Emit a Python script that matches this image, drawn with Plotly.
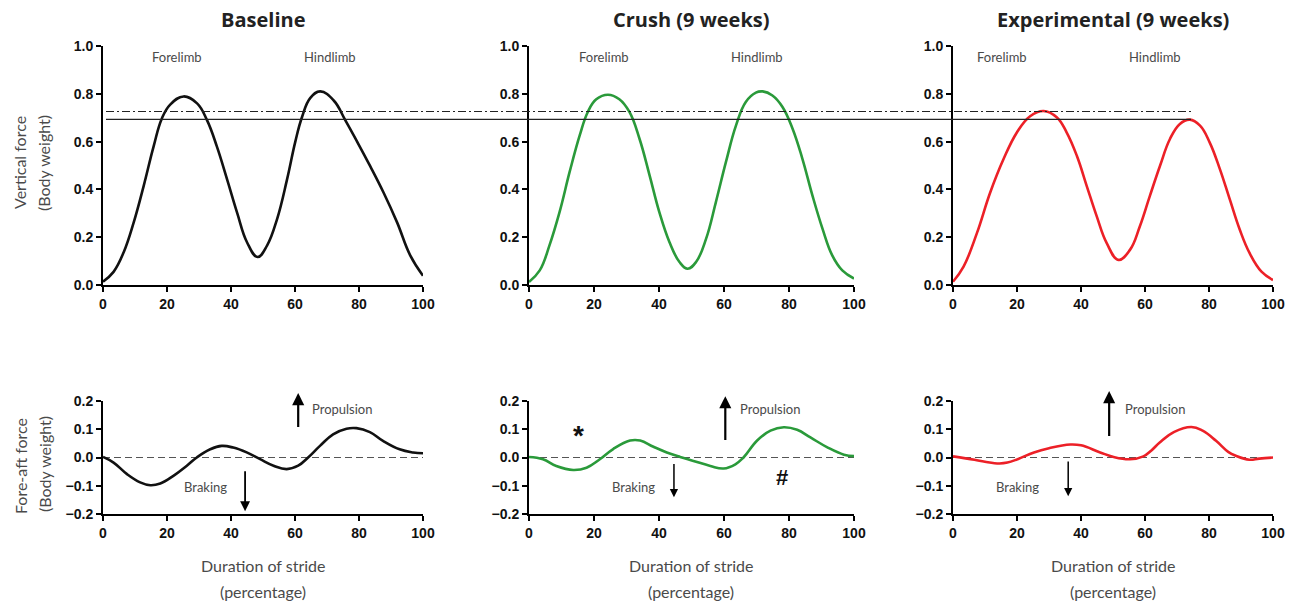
import plotly.graph_objects as go

W, H = 1297, 602

# ---------------- data ----------------
panel_titles = ["Baseline", "Crush (9 weeks)", "Experimental (9 weeks)"]
colors = ["#111111", "#2a9a3a", "#ec2027"]

base_v_x = [0, 3.3, 6.5, 9.6, 12.7, 15.8, 18.4, 21, 25.2, 29.4, 32.5, 35.6, 38.8, 41.9, 45, 48.3, 51.3, 54.4, 57.5, 60.1, 62.2, 64.8, 67.9, 72.1, 75.7, 79.4, 83.5, 87.7, 91.9, 96, 100]
base_v_y = [0.014, 0.055, 0.138, 0.262, 0.414, 0.579, 0.697, 0.755, 0.789, 0.76, 0.69, 0.579, 0.441, 0.303, 0.179, 0.117, 0.166, 0.276, 0.441, 0.6, 0.703, 0.783, 0.81, 0.772, 0.69, 0.6, 0.497, 0.386, 0.262, 0.124, 0.039]

crush_v_x = [0, 3.3, 6.3, 9.4, 12.5, 15.6, 18.1, 20.7, 24.3, 27.8, 30.9, 34, 37.1, 40.1, 43.2, 46.3, 48.8, 51.4, 54.5, 57.5, 60.6, 63.7, 66.7, 69.8, 71.9, 74.9, 78, 81.1, 84.1, 87.2, 90.3, 93.3, 96.4, 100]
crush_v_y = [0.013, 0.061, 0.166, 0.305, 0.473, 0.626, 0.724, 0.777, 0.796, 0.777, 0.724, 0.612, 0.459, 0.305, 0.18, 0.096, 0.068, 0.096, 0.194, 0.347, 0.515, 0.668, 0.766, 0.805, 0.81, 0.793, 0.745, 0.654, 0.529, 0.375, 0.236, 0.124, 0.061, 0.027]

exp_v_x = [0, 3.3, 7.5, 11.6, 15.8, 20, 24.1, 28.3, 32.4, 35.5, 38.7, 41.8, 44.9, 48, 51.7, 55.3, 58.4, 61.5, 64.7, 67.8, 70.9, 74, 77.2, 80.2, 83.4, 86.5, 89.6, 92.7, 96.4, 100]
exp_v_y = [0.014, 0.077, 0.218, 0.386, 0.527, 0.639, 0.706, 0.728, 0.702, 0.639, 0.541, 0.414, 0.288, 0.176, 0.105, 0.147, 0.246, 0.372, 0.499, 0.611, 0.674, 0.692, 0.667, 0.597, 0.485, 0.358, 0.232, 0.133, 0.056, 0.021]

base_f_x = [0, 3.3, 7.5, 11.6, 14.8, 17.9, 22, 26.2, 29.3, 33.5, 37.1, 40.7, 44.9, 49.1, 53.3, 57.4, 61, 64.1, 67.8, 71.9, 76.1, 79.2, 83.4, 87.5, 92.7, 96.9, 100]
base_f_y = [0.002, -0.018, -0.059, -0.088, -0.098, -0.092, -0.065, -0.029, 0.0, 0.029, 0.041, 0.035, 0.018, -0.006, -0.029, -0.041, -0.029, 0.0, 0.041, 0.082, 0.102, 0.104, 0.09, 0.059, 0.029, 0.018, 0.015]

crush_f_x = [0, 4.3, 8.4, 13.6, 17.7, 21.8, 25.9, 31.1, 34.2, 38.3, 42.4, 46.5, 50.6, 55.8, 59.9, 63.5, 66, 70.2, 74.3, 78.4, 82.5, 86.6, 91.8, 96.9, 100]
crush_f_y = [0.002, -0.006, -0.03, -0.044, -0.036, -0.006, 0.03, 0.06, 0.06, 0.038, 0.018, 0.002, -0.012, -0.03, -0.039, -0.024, 0.0, 0.06, 0.095, 0.107, 0.098, 0.071, 0.036, 0.01, 0.005]

exp_f_x = [0, 6.7, 10, 14.5, 17, 20.2, 25.3, 30, 36.7, 40, 46, 50.2, 55.3, 59.5, 62, 64.6, 69, 74.5, 78, 82.2, 86, 88.4, 92.6, 95.7, 100]
exp_f_y = [0.004, -0.008, -0.015, -0.021, -0.018, -0.006, 0.018, 0.033, 0.046, 0.043, 0.018, 0.002, -0.006, 0.004, 0.025, 0.053, 0.09, 0.108, 0.095, 0.059, 0.02, 0.006, -0.008, -0.004, 0.0]

vertical = [(base_v_x, base_v_y), (crush_v_x, crush_v_y), (exp_v_x, exp_v_y)]
foreaft = [(base_f_x, base_f_y), (crush_f_x, crush_f_y), (exp_f_x, exp_f_y)]

x_ticks = [0, 20, 40, 60, 80, 100]
top_ticks = [0.0, 0.2, 0.4, 0.6, 0.8, 1.0]
bot_ticks = [-0.2, -0.1, 0.0, 0.1, 0.2]

# ---------------- layout geometry (pixels) ----------------
col_px = [(103, 423), (529, 854), (953, 1273)]
top_px = (46, 285)
bot_px = (401, 514)

def px_x(p):
    return p / W

def px_y(p):
    return 1 - p / H

fig = go.Figure()

GRAY = "#4a4a4a"
TICKFONT = dict(family="Liberation Sans, Arial", size=14, color="#111111", weight=700)
LABFONT = "Lato, Open Sans, sans-serif"

for i in range(3):
    ti, bi = i + 1, i + 4
    vx, vy = vertical[i]
    fx, fy = foreaft[i]
    fig.add_trace(go.Scatter(x=vx, y=vy, mode="lines", line=dict(color=colors[i], width=2.6, shape="spline", smoothing=1.2),
                             xaxis=f"x{ti}", yaxis=f"y{ti}", showlegend=False, hoverinfo="skip"))
    fig.add_trace(go.Scatter(x=fx, y=fy, mode="lines", line=dict(color=colors[i], width=2.6, shape="spline", smoothing=1.2),
                             xaxis=f"x{bi}", yaxis=f"y{bi}", showlegend=False, hoverinfo="skip"))

axis_common = dict(showgrid=False, zeroline=False, showline=True, linecolor="black", linewidth=2,
                   ticks="outside", ticklen=5, tickwidth=2, tickcolor="black", tickfont=TICKFONT, automargin=False)

layout = {}
for i in range(3):
    ti, bi = i + 1, i + 4
    xd = [px_x(col_px[i][0]), px_x(col_px[i][1])]
    layout[f"xaxis{ti}"] = dict(domain=xd, range=[0, 100], tickvals=x_ticks, anchor=f"y{ti}", **axis_common)
    layout[f"yaxis{ti}"] = dict(domain=[px_y(top_px[1]), px_y(top_px[0])], range=[0, 1.0], tickvals=top_ticks,
                                tickformat=".1f", anchor=f"x{ti}", **axis_common)
    layout[f"xaxis{bi}"] = dict(domain=xd, range=[0, 100], tickvals=x_ticks, anchor=f"y{bi}", **axis_common)
    layout[f"yaxis{bi}"] = dict(domain=[px_y(bot_px[1]), px_y(bot_px[0])], range=[-0.2, 0.2], tickvals=bot_ticks,
                                tickformat=".1f", anchor=f"x{bi}", **axis_common)

shapes = []
for i in range(3):
    bi = i + 4
    shapes.append(dict(type="line", xref=f"x{bi}", yref=f"y{bi}", x0=0, x1=100, y0=0, y1=0,
                       line=dict(color="#555555", width=1.2, dash="7px,4px"), layer="below"))
shapes.append(dict(type="line", xref="paper", yref="paper", x0=px_x(106), x1=px_x(1191), y0=px_y(111.5), y1=px_y(111.5),
                   line=dict(color="#222222", width=1, dash="8px,3px,2px,3px")))
shapes.append(dict(type="line", xref="paper", yref="paper", x0=px_x(106), x1=px_x(1191), y0=px_y(119.3), y1=px_y(119.3),
                   line=dict(color="#222222", width=1.3)))

ann = []
for i in range(3):
    cx = (col_px[i][0] + col_px[i][1]) / 2
    ann.append(dict(xref="paper", yref="paper", x=px_x(cx), y=px_y(20), text=f"<b>{panel_titles[i]}</b>", showarrow=False,
                    font=dict(family="Open Sans, sans-serif", size=20, color="#222222"), xanchor="center", yanchor="middle"))
    ann.append(dict(xref="paper", yref="paper", x=px_x(cx), y=px_y(565), text="Duration of stride", showarrow=False,
                    font=dict(family=LABFONT, size=16, color=GRAY), xanchor="center", yanchor="middle"))
    ann.append(dict(xref="paper", yref="paper", x=px_x(cx), y=px_y(591), text="(percentage)", showarrow=False,
                    font=dict(family=LABFONT, size=16, color=GRAY), xanchor="center", yanchor="middle"))

for txt, xp, yp in [("Vertical force", 20, 163), ("(Body weight)", 44, 163),
                    ("Fore-aft force", 20, 466), ("(Body weight)", 44, 464)]:
    ann.append(dict(xref="paper", yref="paper", x=px_x(xp), y=px_y(yp), text=txt, showarrow=False, textangle=-90,
                    font=dict(family=LABFONT, size=16, color=GRAY), xanchor="center", yanchor="middle"))

limb_pos = [(23, 71), (23, 70), (15.3, 63)]
for i in range(3):
    ti = i + 1
    fxp, hxp = limb_pos[i]
    for txt, xx in [("Forelimb", fxp), ("Hindlimb", hxp)]:
        ann.append(dict(xref=f"x{ti}", yref=f"y{ti}", x=xx, y=0.954, text=txt, showarrow=False,
                        font=dict(family=LABFONT, size=13, color=GRAY), xanchor="center", yanchor="middle"))

arrows = [
    dict(ux=61.0, ut=0.103, uh=0.228, px=64.7, dx=44.4, dt=-0.043, dh=-0.19, bx=31.9),
    dict(ux=60.4, ut=0.057, uh=0.217, px=64.3, dx=44.6, dt=-0.018, dh=-0.141, bx=32.0),
    dict(ux=48.8, ut=0.071, uh=0.235, px=53.1, dx=36.0, dt=-0.009, dh=-0.137, bx=20.3),
]
for i, a in enumerate(arrows):
    bi = i + 4
    xr, yr = f"x{bi}", f"y{bi}"
    ann.append(dict(xref=xr, yref=yr, axref=xr, ayref=yr, x=a["ux"], y=a["uh"], ax=a["ux"], ay=a["ut"], text="",
                    showarrow=True, arrowhead=2, arrowsize=1.1, arrowwidth=2.2, arrowcolor="black"))
    ann.append(dict(xref=xr, yref=yr, axref=xr, ayref=yr, x=a["dx"], y=a["dh"], ax=a["dx"], ay=a["dt"], text="",
                    showarrow=True, arrowhead=2, arrowsize=1.1, arrowwidth=1.8 if i == 0 else 1.5, arrowcolor="black"))
    ann.append(dict(xref=xr, yref=yr, x=a["px"], y=0.17, text="Propulsion", showarrow=False, xanchor="left", yanchor="middle",
                    font=dict(family=LABFONT, size=13, color=GRAY)))
    ann.append(dict(xref=xr, yref=yr, x=a["bx"], y=-0.106, text="Braking", showarrow=False, xanchor="center", yanchor="middle",
                    font=dict(family=LABFONT, size=13, color=GRAY)))

ann.append(dict(xref="x5", yref="y5", x=15.1, y=0.078, text="<b>*</b>", showarrow=False,
                font=dict(family="Liberation Sans, Arial", size=28, color="#111111")))
ann.append(dict(xref="x5", yref="y5", x=77.8, y=-0.071, text="<b>#</b>", showarrow=False,
                font=dict(family="Liberation Sans, Arial", size=22, color="#111111")))

fig.update_layout(width=W, height=H, margin=dict(l=0, r=0, t=0, b=0, autoexpand=False),
                  plot_bgcolor="white", paper_bgcolor="white",
                  shapes=shapes, annotations=ann, showlegend=False, **layout)

fig.write_html("out.html", config={"displayModeBar": False},
               post_script="document.body.style.margin='0';document.body.style.overflow='hidden';")
